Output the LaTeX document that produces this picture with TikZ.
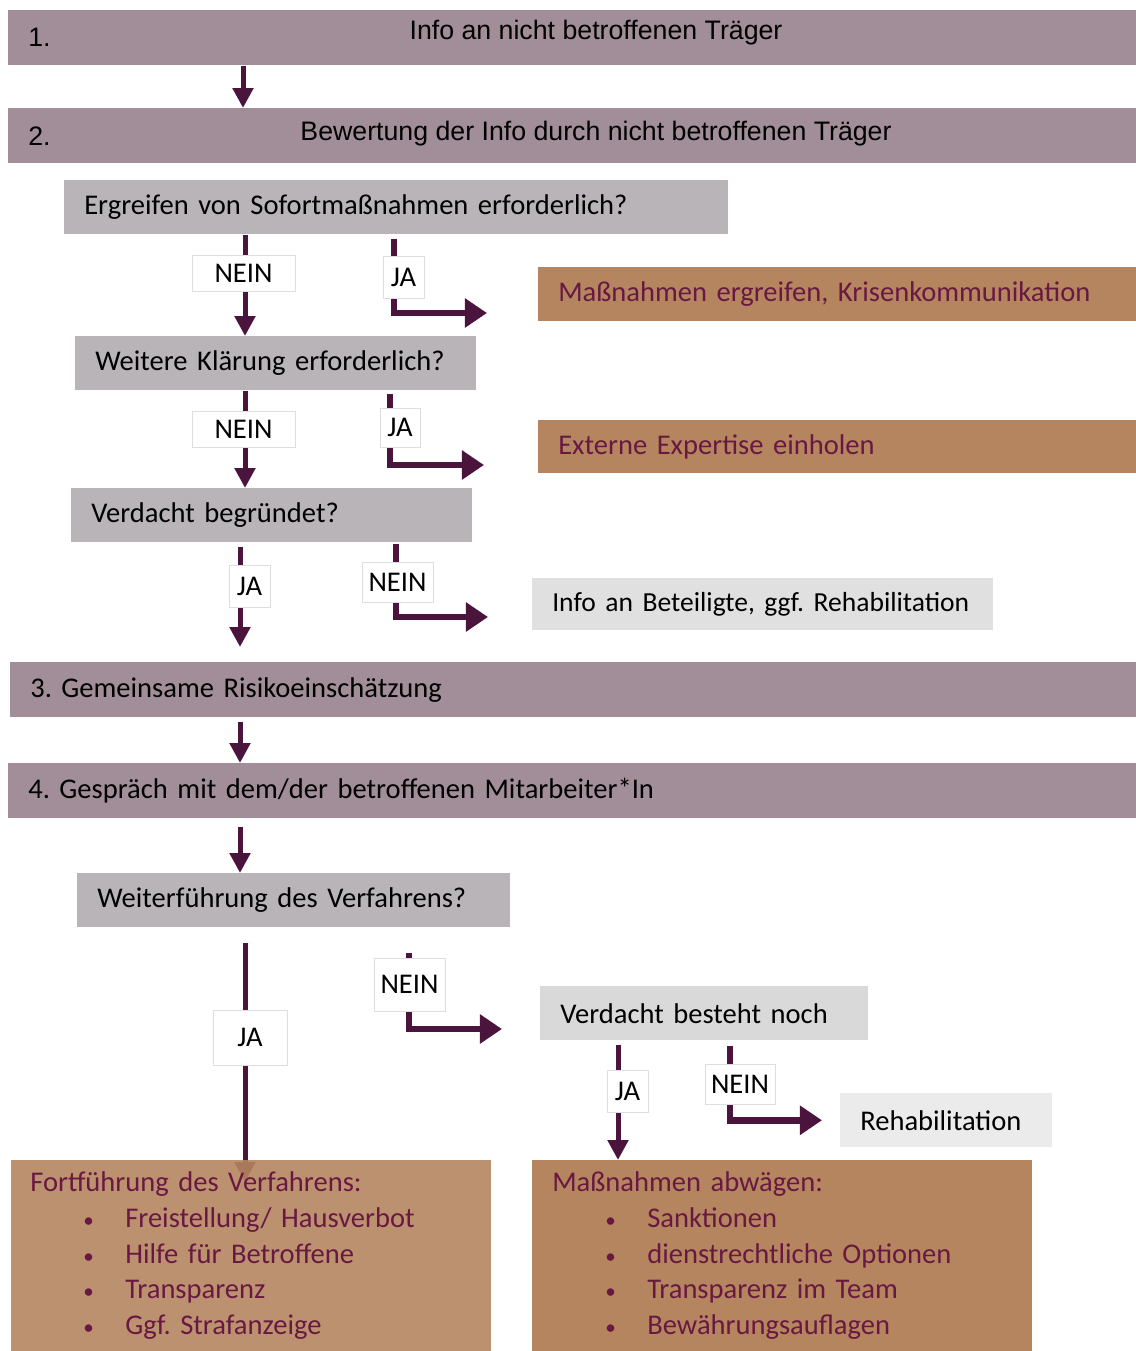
\documentclass[tikz,border=0pt]{standalone}
\usepackage{fontspec}
\setmainfont{Carlito}
\newfontfamily\arialfont{Liberation Sans}
\usetikzlibrary{arrows.meta,backgrounds}

\definecolor{barmauve}{RGB}{161,142,152}
\definecolor{askgray}{RGB}{185,180,184}
\definecolor{actorange}{RGB}{181,133,95}
\definecolor{actred}{RGB}{105,25,65}
\definecolor{flowpurple}{RGB}{75,20,60}
\definecolor{framegray}{RGB}{222,222,222}

\newcommand\bulletline[1]{\hspace*{1.325cm}\makebox[1.05cm][l]{\fontsize{15}{25.4}\selectfont•}#1}

\begin{document}
\frenchspacing
\begin{tikzpicture}[x=0.025cm, y=-0.025cm,
                    font=\fontsize{20.3}{25.4}\selectfont,
                    bar/.style={fill=barmauve, anchor=north west, minimum height=1.375cm,
                                inner xsep=0.5cm, inner ysep=0pt, text width=27.2cm, align=left},
                    ask/.style={fill=askgray, anchor=north west, minimum height=1.35cm,
                                inner xsep=0.5cm, inner ysep=0pt, align=left},
                    act/.style={fill=actorange, text=actred, anchor=north west, minimum height=1.35cm,
                                inner xsep=0.5cm, inner ysep=0pt, align=left},
                    answer/.style={draw=framegray, fill=white, inner sep=0pt},
                    flow/.style={-{Triangle[length=0.5cm, width=0.5cm]}, draw=flowpurple, line width=0.125cm},
                    turn/.style={-{Triangle[length=0.55cm, width=0.7cm]}, draw=flowpurple, line width=0.17cm}]

  \useasboundingbox (0,0) rectangle (1136,1351);

  % steps
  \node[bar] (b1) at (8,10) {\arialfont\fontsize{19}{22}\selectfont 1.};
  \node[font=\arialfont\fontsize{19}{22}\selectfont] (t1) at (596,33) {Info an nicht betroffenen Träger};
  \node[bar] (b2) at (8,108) {\arialfont\fontsize{19}{22}\selectfont 2.};
  \node[font=\arialfont\fontsize{19}{22}\selectfont] (t2) at (596,134) {Bewertung der Info durch nicht betroffenen Träger};
  \node[bar, text width=27.15cm] (b3) at (10,662) {3. Gemeinsame Risikoeinschätzung};
  \node[bar] (b4) at (8,763) {4. Gespräch mit dem/der betroffenen Mitarbeiter*In};

  % questions
  \node[ask, text width=15.6cm] (q1) at (64,180) {Ergreifen von Sofortmaßnahmen erforderlich?};
  \node[ask, text width=9.025cm] (q2) at (75,336) {Weitere Klärung erforderlich?};
  \node[ask, text width=9.025cm] (q3) at (71,488) {Verdacht begründet?};
  \node[ask, text width=9.825cm] (q4) at (77,873) {Weiterführung des Verfahrens?};
  \node[ask, fill=black!15, text width=7.2cm] (v1) at (540,986) {Verdacht besteht noch};

  % outcomes
  \node[act, text width=13.95cm] (m1) at (538,267) {Maßnahmen ergreifen, Krisenkommunikation};
  \node[act, minimum height=1.325cm, text width=13.95cm] (m2) at (538,420) {Externe Expertise einholen};
  \node[ask, fill=black!12, minimum height=1.3cm, text width=10.525cm] (r1) at (532,578)
    {\makebox[\linewidth][l]{\fontsize{19.6}{25.4}\selectfont Info an Beteiligte, ggf. Rehabilitation}};
  \node[ask, fill=black!8, text width=4.3cm] (r2) at (840,1093) {Rehabilitation};
  \node[act, fill opacity=0.9, text opacity=1, minimum height=4.775cm, inner xsep=0.475cm, text width=11.05cm] (o1) at (11,1160)
    {Fortführung des Verfahrens:\\
     \bulletline{Freistellung/ Hausverbot}\\
     \bulletline{Hilfe für Betroffene}\\
     \bulletline{Transparenz}\\
     \bulletline{Ggf. Strafanzeige}};
  \node[act, minimum height=4.775cm, text width=11.5cm] (o2) at (532,1160)
    {Maßnahmen abwägen:\\
     \bulletline{Sanktionen}\\
     \bulletline{dienstrechtliche Optionen}\\
     \bulletline{Transparenz im Team}\\
     \bulletline{Bewährungsauflagen}};

  % columns and free ends
  \coordinate (colA) at (243,0);
  \coordinate (colB) at (245,0);
  \coordinate (colC) at (394,0);
  \coordinate (colD) at (390,0);
  \coordinate (colE) at (240,0);
  \coordinate (colF) at (396,0);
  \coordinate (colG) at (409,0);
  \coordinate (colH) at (618,0);
  \coordinate (colI) at (730,0);
  \coordinate (e1) at (487,313);
  \coordinate (e2) at (484,465);
  \coordinate (e3) at (488,617);
  \coordinate (e4) at (502,1029);

  % arrows
  \draw[flow] (b1.south -| colA) -- (b2.north -| colA);
  \draw[flow] (q1.south -| colB) -- (q2.north -| colB);
  \draw[turn, shorten <=0.1cm] (q1.south -| colC) |- (e1);
  \draw[flow] (q2.south -| colB) -- (q3.north -| colB);
  \draw[turn, shorten <=0.075cm] (q2.south -| colD) |- (e2);
  \draw[flow, shorten <=0.1cm, shorten >=0.375cm] (q3.south -| colE) -- (b3.north -| colE);
  \draw[turn, shorten <=0.025cm] (q3.south -| colF) |- (e3);
  \draw[flow, shorten <=0.1cm] (b3.south -| colE) -- (b4.north -| colE);
  \draw[flow, shorten <=0.2cm] (b4.south -| colE) -- (q4.north -| colE);
  \begin{scope}[on background layer]
    \draw[flow, shorten <=0.375cm, shorten >=-0.55cm] (q4.south -| colB) -- (o1.north -| colB);
  \end{scope}
  \draw[turn, shorten <=0.625cm] (q4.south -| colG) |- (e4);
  \draw[flow, shorten <=0.1cm] (v1.south -| colH) -- (o2.north -| colH);
  \draw[turn, shorten <=0.125cm, shorten >=0.45cm] (v1.south -| colI) |- (r2.west);

  % answers
  \node[answer, minimum width=2.575cm, minimum height=0.9cm] (n1) at (243.5,273) {NEIN};
  \node[answer, minimum width=1.025cm, minimum height=1.05cm] (j1) at (403.5,277) {JA};
  \node[answer, minimum width=2.575cm, minimum height=0.9cm] (n2) at (243.5,429) {NEIN};
  \node[answer, minimum width=1cm, minimum height=0.975cm] (j2) at (400,427.5) {JA};
  \node[answer, minimum width=1.025cm, minimum height=1.05cm] (j3) at (249.5,586) {JA};
  \node[answer, minimum width=1.775cm, minimum height=1cm] (n3) at (397.5,582) {NEIN};
  \node[answer, minimum width=1.85cm, minimum height=1.375cm] (j4) at (250,1037.5) {JA};
  \node[answer, minimum width=1.775cm, minimum height=1.325cm] (n4) at (409.5,984.5) {NEIN};
  \node[answer, minimum width=1.025cm, minimum height=1.05cm] (j5) at (627.5,1091) {JA};
  \node[answer, minimum width=1.75cm, minimum height=1cm] (n5) at (740,1084) {NEIN};
\end{tikzpicture}
\end{document}
